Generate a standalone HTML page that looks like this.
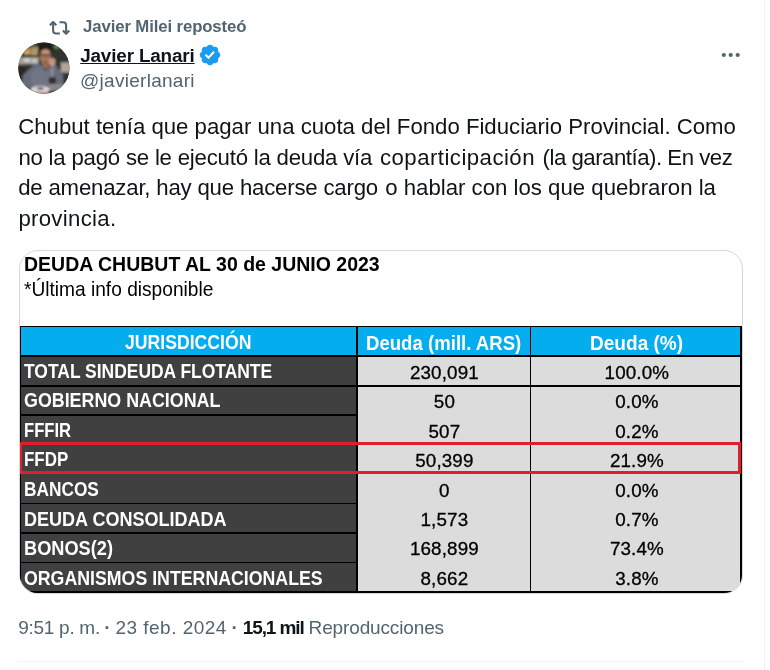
<!DOCTYPE html>
<html lang="es">
<head>
<meta charset="utf-8">
<title>Post</title>
<style>
html,body{margin:0;padding:0;background:#fff;}
body{width:770px;height:670px;position:relative;overflow:hidden;font-family:"Liberation Sans",sans-serif;color:#0f1419;}
.t{position:absolute;white-space:nowrap;}
.c{text-align:center;-webkit-text-stroke:0.3px #000;}
.r{position:absolute;}
.abs{position:absolute;}
.card{position:absolute;left:18.5px;top:250px;width:722px;height:341.8px;border:1px solid #cfd9de;border-radius:19px;overflow:hidden;background:#fff;}
.in{position:absolute;left:-19.5px;top:-251px;width:770px;height:670px;}
</style>
</head>
<body>
<div class="r" style="left:764px;top:0;width:1px;height:670px;background:#eff3f4"></div>
<div class="r" style="left:18.5px;top:660.8px;width:725px;height:1px;background:#eff3f4"></div>

<svg class="abs" style="left:46px;top:16.5px" width="26" height="22" viewBox="46 16 26 22"><g fill="none" stroke="#536471" stroke-width="2.100" stroke-linejoin="round"><path d="M49.900 24.300L53.100 21L56.300 24.300"/><path d="M53.100 21.400V29.500a3 3 0 0 0 3 3H59.900"/><path d="M59.500 21.200H63.100a3 3 0 0 1 3 3V32.300"/><path d="M62.900 29.400L66.100 32.700L69.300 29.400"/></g></svg>

<svg class="abs" style="left:18px;top:41.500px" width="52" height="52" viewBox="0 0 52 52">
<defs><clipPath id="c"><circle cx="25.900" cy="26.100" r="25.600"/></clipPath><filter id="b" x="-30%" y="-30%" width="160%" height="160%"><feGaussianBlur stdDeviation="0.850"/></filter></defs>
<g clip-path="url(#c)">
<rect x="-5" y="-5" width="62" height="62" fill="#34332f"/>
<g filter="url(#b)">
<rect x="-2" y="-2" width="56" height="8" fill="#2b2c28"/>
<rect x="5.500" y="6.500" width="7" height="6.500" fill="#c9a15e"/>
<rect x="13" y="5" width="7" height="8.500" fill="#b09566"/>
<rect x="8" y="2" width="10" height="4" fill="#6b6246"/>
<rect x="-1" y="15" width="22" height="7.500" fill="#a3a29a"/>
<rect x="6" y="16" width="6" height="4" fill="#cfcec6"/>
<rect x="14" y="17" width="5" height="4" fill="#c4c4bd"/>
<rect x="-1" y="24" width="9" height="16" fill="#2a2825"/>
<rect x="34" y="3" width="18" height="17" fill="#2d362f"/>
<ellipse cx="38.500" cy="5" rx="2.800" ry="1.800" fill="#6c8c42"/>
<rect x="42.500" y="20.500" width="10" height="10" fill="#b3a596"/>
<rect x="44" y="31" width="9" height="10" fill="#33302e"/>
<path d="M17.500 21 L5 33 L3 46 L46 47 L45 33 L38 23 L30 25 Z" fill="#666c7a"/>
<path d="M20 25 L12 32 L14 44 L33 44 L35 30 Z" fill="#6f7686"/>
<path d="M22.500 22 L27 30 L31.500 23 L29.500 22 L27 26 L24.500 21 Z" fill="#4e5360"/>
<ellipse cx="27.400" cy="6.600" rx="7.200" ry="5.800" fill="#1f1a17"/>
<ellipse cx="27.400" cy="15" rx="5.600" ry="8" fill="#a9795f"/>
<ellipse cx="27.600" cy="9.800" rx="4.200" ry="2" fill="#c0957b"/>
<rect x="24.600" y="20" width="5.800" height="6" fill="#9a6a53"/>
<rect x="22.600" y="12.400" width="9.600" height="1.900" fill="#69463a"/>
<ellipse cx="27.500" cy="19.500" rx="2.200" ry="0.800" fill="#7a4a40"/>
<ellipse cx="34.200" cy="20.300" rx="3.300" ry="4.200" fill="#c89880"/>
<rect x="33" y="26" width="2.500" height="9" fill="#8d8f99"/>
<ellipse cx="34.300" cy="38.500" rx="3.900" ry="3.700" fill="#3b2a33"/>
<rect x="31" y="42" width="14" height="7" fill="#858585"/>
<ellipse cx="22.200" cy="47.500" rx="9.800" ry="3.600" fill="#dcd6d6"/>
<ellipse cx="22.300" cy="46.600" rx="3.400" ry="1.300" fill="#5c4c5c"/>
<ellipse cx="27" cy="51" rx="4" ry="1.500" fill="#d88c8c"/>
</g></g>
</svg>

<svg class="abs" style="left:197.600px;top:42.500px" width="24" height="24" viewBox="0 0 22 22"><path fill="#1d9bf0" d="M20.396 11c-.018-.646-.215-1.275-.570-1.816-.354-.540-.852-.972-1.438-1.246.223-.607.270-1.264.140-1.897-.131-.634-.437-1.218-.882-1.687-.470-.445-1.053-.750-1.687-.882-.633-.130-1.290-.083-1.897.140-.273-.587-.704-1.086-1.245-1.440S11.647 1.620 11 1.604c-.646.017-1.273.213-1.813.568s-.969.854-1.240 1.440c-.608-.223-1.267-.272-1.902-.140-.635.130-1.220.436-1.690.882-.445.470-.749 1.055-.878 1.688-.130.633-.080 1.290.144 1.896-.587.274-1.087.705-1.443 1.245-.356.540-.555 1.170-.574 1.817.020.647.218 1.276.574 1.817.356.540.856.972 1.443 1.245-.224.606-.274 1.263-.144 1.896.130.634.433 1.218.877 1.688.470.443 1.054.747 1.687.878.633.132 1.290.084 1.897-.136.274.586.705 1.084 1.246 1.439.540.354 1.170.551 1.816.569.647-.016 1.276-.213 1.817-.567s.972-.854 1.245-1.440c.604.239 1.266.296 1.903.164.636-.132 1.220-.447 1.680-.907.460-.460.776-1.044.908-1.681s.075-1.299-.165-1.903c.586-.274 1.084-.705 1.439-1.246.354-.540.551-1.170.569-1.816zM9.662 14.850l-3.429-3.428 1.293-1.302 2.072 2.072 4.400-4.794 1.347 1.246z"/></svg>

<svg class="abs" style="left:719px;top:49px" width="24" height="12" viewBox="0 0 24 12"><g fill="#536471"><circle cx="4.800" cy="6" r="2.100"/><circle cx="11.700" cy="6" r="2.100"/><circle cx="18.700" cy="6" r="2.100"/></g></svg>

<div class="t" style="left:83.10px;top:17.38px;font-size:16.8px;line-height:20px;color:#536471;font-weight:bold;letter-spacing:-0.132px;">Javier Milei reposteó</div>
<div class="t" style="left:80.20px;top:45.85px;font-size:18.9px;line-height:20px;color:#0f1419;font-weight:bold;letter-spacing:-0.165px;text-decoration:underline;text-decoration-thickness:1.2px;text-underline-offset:1.4px;text-decoration-skip-ink:none;">Javier Lanari</div>
<div class="t" style="left:80.00px;top:70.82px;font-size:19px;line-height:20px;color:#536471;letter-spacing:0.277px;">@javierlanari</div>
<div class="t" style="left:18.20px;top:117.21px;font-size:22.2px;line-height:20px;color:#0f1419;letter-spacing:-0.002px;">Chubut tenía que pagar una cuota del Fondo Fiduciario Provincial. Como</div>
<div class="t" style="left:18.40px;top:147.71px;font-size:22.2px;line-height:20px;color:#0f1419;letter-spacing:-0.207px;">no la pagó se le ejecutó la deuda vía</div>
<div class="t" style="left:380.00px;top:147.71px;font-size:22.2px;line-height:20px;color:#0f1419;letter-spacing:0.464px;">coparticipación</div>
<div class="t" style="left:542.60px;top:147.71px;font-size:22.2px;line-height:20px;color:#0f1419;letter-spacing:-0.480px;">(la garantía). En vez</div>
<div class="t" style="left:18.20px;top:178.21px;font-size:22.2px;line-height:20px;color:#0f1419;letter-spacing:-0.192px;">de amenazar, hay que hacerse cargo</div>
<div class="t" style="left:385.20px;top:178.21px;font-size:22.2px;line-height:20px;color:#0f1419;letter-spacing:0.006px;">o hablar con los que quebraron la</div>
<div class="t" style="left:18.40px;top:208.71px;font-size:22.2px;line-height:20px;color:#0f1419;letter-spacing:0.303px;">provincia.</div>
<div class="t" style="left:18.30px;top:618.42px;font-size:19px;line-height:20px;color:#536471;letter-spacing:-0.289px;">9:51 p. m.</div>
<div class="t" style="left:104.20px;top:618.42px;font-size:19px;line-height:20px;color:#536471;font-weight:bold;">·</div>
<div class="t" style="left:115.50px;top:618.42px;font-size:19px;line-height:20px;color:#536471;letter-spacing:0.468px;">23 feb. 2024</div>
<div class="t" style="left:231.40px;top:618.42px;font-size:19px;line-height:20px;color:#536471;font-weight:bold;">·</div>
<div class="t" style="left:242.70px;top:618.42px;font-size:19px;line-height:20px;color:#0f1419;font-weight:bold;letter-spacing:-1.088px;">15,1 mil</div>
<div class="t" style="left:308.60px;top:618.42px;font-size:19px;line-height:20px;color:#536471;letter-spacing:-0.139px;">Reproducciones</div>

<div class="card"><div class="in">
<div class="r" style="left:19.00px;top:326.00px;width:724.00px;height:30.20px;background:#03adee"></div>
<div class="r" style="left:19.00px;top:356.20px;width:338.00px;height:237.80px;background:#404040"></div>
<div class="r" style="left:357.00px;top:356.20px;width:386.00px;height:237.80px;background:#dcdcdc"></div>
<div class="r" style="left:19.00px;top:325.50px;width:724.00px;height:1.80px;background:#000"></div>
<div class="r" style="left:19.00px;top:355.30px;width:724.00px;height:1.80px;background:#000"></div>
<div class="r" style="left:19.00px;top:384.90px;width:724.00px;height:1.80px;background:#000"></div>
<div class="r" style="left:19.00px;top:414.30px;width:338.80px;height:1.80px;background:#000"></div>
<div class="r" style="left:19.00px;top:502.50px;width:338.80px;height:1.80px;background:#000"></div>
<div class="r" style="left:19.00px;top:532.20px;width:338.80px;height:1.80px;background:#000"></div>
<div class="r" style="left:19.00px;top:561.60px;width:338.80px;height:1.80px;background:#000"></div>
<div class="r" style="left:19.00px;top:590.90px;width:724.00px;height:2.00px;background:#000"></div>
<div class="r" style="left:19.90px;top:326.00px;width:1.60px;height:268.00px;background:#000"></div>
<div class="r" style="left:356.30px;top:326.00px;width:1.80px;height:268.00px;background:#000"></div>
<div class="r" style="left:529.60px;top:326.00px;width:1.80px;height:268.00px;background:#000"></div>
<div class="r" style="left:739.80px;top:326.00px;width:2.70px;height:268.00px;background:#000"></div>
<div class="t" style="left:24.01px;top:254.21px;font-size:19.6px;line-height:20px;color:#000;transform-origin:0 50%;transform:scaleX(0.9949);font-weight:bold;">DEUDA CHUBUT AL 30 de JUNIO 2023</div>
<div class="t" style="left:23.84px;top:279.33px;font-size:20.4px;line-height:20px;color:#000;transform-origin:0 50%;transform:scaleX(0.9384);">*Última info disponible</div>
<div class="t" style="left:125.46px;top:333.41px;font-size:19.3px;line-height:20px;color:#fff;transform-origin:0 50%;transform:scaleX(0.9145);font-weight:bold;">JURISDICCIÓN</div>
<div class="t" style="left:366.25px;top:333.51px;font-size:19.3px;line-height:20px;color:#fff;transform-origin:0 50%;transform:scaleX(0.9643);font-weight:bold;">Deuda (mill. ARS)</div>
<div class="t" style="left:589.92px;top:333.51px;font-size:19.3px;line-height:20px;color:#fff;transform-origin:0 50%;transform:scaleX(0.9882);font-weight:bold;">Deuda (%)</div>
<div class="t" style="left:24.32px;top:361.51px;font-size:19.3px;line-height:20px;color:#fff;transform-origin:0 50%;transform:scaleX(0.9049);font-weight:bold;">TOTAL SINDEUDA FLOTANTE</div>
<div class="t c" style="left:294.40px;width:300px;top:362.99px;font-size:18.8px;line-height:20px;color:#000;letter-spacing:0.150px;">230,091</div>
<div class="t c" style="left:486.90px;width:300px;top:362.99px;font-size:18.8px;line-height:20px;color:#000;letter-spacing:0.150px;">100.0%</div>
<div class="t" style="left:24.30px;top:391.17px;font-size:19.3px;line-height:20px;color:#fff;transform-origin:0 50%;transform:scaleX(0.9256);font-weight:bold;">GOBIERNO NACIONAL</div>
<div class="t c" style="left:294.40px;width:300px;top:392.39px;font-size:18.8px;line-height:20px;color:#000;letter-spacing:0.150px;">50</div>
<div class="t c" style="left:486.90px;width:300px;top:392.39px;font-size:18.8px;line-height:20px;color:#000;letter-spacing:0.150px;">0.0%</div>
<div class="t" style="left:24.38px;top:420.83px;font-size:19.3px;line-height:20px;color:#fff;transform-origin:0 50%;transform:scaleX(0.8611);font-weight:bold;">FFFIR</div>
<div class="t c" style="left:294.40px;width:300px;top:421.79px;font-size:18.8px;line-height:20px;color:#000;letter-spacing:0.150px;">507</div>
<div class="t c" style="left:486.90px;width:300px;top:421.79px;font-size:18.8px;line-height:20px;color:#000;letter-spacing:0.150px;">0.2%</div>
<div class="t" style="left:24.36px;top:450.49px;font-size:19.3px;line-height:20px;color:#fff;transform-origin:0 50%;transform:scaleX(0.8797);font-weight:bold;">FFDP</div>
<div class="t c" style="left:294.40px;width:300px;top:451.19px;font-size:18.8px;line-height:20px;color:#000;letter-spacing:0.150px;">50,399</div>
<div class="t c" style="left:486.90px;width:300px;top:451.19px;font-size:18.8px;line-height:20px;color:#000;letter-spacing:0.150px;">21.9%</div>
<div class="t" style="left:24.34px;top:480.15px;font-size:19.3px;line-height:20px;color:#fff;transform-origin:0 50%;transform:scaleX(0.8955);font-weight:bold;">BANCOS</div>
<div class="t c" style="left:294.40px;width:300px;top:480.59px;font-size:18.8px;line-height:20px;color:#000;letter-spacing:0.150px;">0</div>
<div class="t c" style="left:486.90px;width:300px;top:480.59px;font-size:18.8px;line-height:20px;color:#000;letter-spacing:0.150px;">0.0%</div>
<div class="t" style="left:24.29px;top:509.81px;font-size:19.3px;line-height:20px;color:#fff;transform-origin:0 50%;transform:scaleX(0.9344);font-weight:bold;">DEUDA CONSOLIDADA</div>
<div class="t c" style="left:294.40px;width:300px;top:509.99px;font-size:18.8px;line-height:20px;color:#000;letter-spacing:0.150px;">1,573</div>
<div class="t c" style="left:486.90px;width:300px;top:509.99px;font-size:18.8px;line-height:20px;color:#000;letter-spacing:0.150px;">0.7%</div>
<div class="t" style="left:24.27px;top:539.47px;font-size:19.3px;line-height:20px;color:#fff;transform-origin:0 50%;transform:scaleX(0.9435);font-weight:bold;">BONOS(2)</div>
<div class="t c" style="left:294.40px;width:300px;top:539.39px;font-size:18.8px;line-height:20px;color:#000;letter-spacing:0.150px;">168,899</div>
<div class="t c" style="left:486.90px;width:300px;top:539.39px;font-size:18.8px;line-height:20px;color:#000;letter-spacing:0.150px;">73.4%</div>
<div class="t" style="left:24.30px;top:569.13px;font-size:19.3px;line-height:20px;color:#fff;transform-origin:0 50%;transform:scaleX(0.9202);font-weight:bold;">ORGANISMOS INTERNACIONALES</div>
<div class="t c" style="left:294.40px;width:300px;top:568.79px;font-size:18.8px;line-height:20px;color:#000;letter-spacing:0.150px;">8,662</div>
<div class="t c" style="left:486.90px;width:300px;top:568.79px;font-size:18.8px;line-height:20px;color:#000;letter-spacing:0.150px;">3.8%</div>
<div class="r" style="left:19.40px;top:441.60px;width:721.50px;height:3.10px;background:#e01f2b"></div>
<div class="r" style="left:19.40px;top:471.00px;width:721.50px;height:3.10px;background:#e01f2b"></div>
<div class="r" style="left:19.40px;top:441.60px;width:2.80px;height:32.50px;background:#e01f2b"></div>
<div class="r" style="left:738.10px;top:441.60px;width:2.80px;height:32.50px;background:#e01f2b"></div>
</div></div>
</body>
</html>
